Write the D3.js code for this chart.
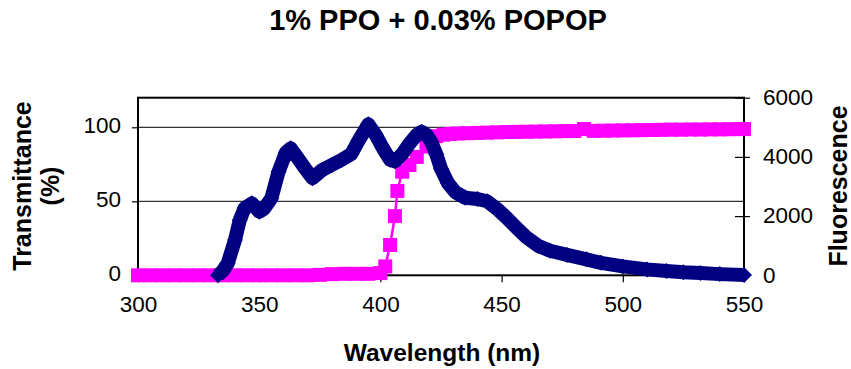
<!DOCTYPE html>
<html>
<head>
<meta charset="utf-8">
<script src="https://cdn.jsdelivr.net/npm/d3@7"></script>
<style>
  html, body { margin: 0; padding: 0; background: #fff; }
  svg { display: block; }
  text { font-family: Arial, "Liberation Sans", Helvetica, sans-serif; fill: #000; }
</style>
</head>
<body>
<svg id="chart" width="851" height="369"></svg>
<script>
// ---- data ----
const title = "1% PPO + 0.03% POPOP";
const xLabel = "Wavelength (nm)";
const yLeftLabel = ["Transmittance", "(%)"];
const yRightLabel = "Fluorescence";

const xTicks = [300, 350, 400, 450, 500, 550];
const leftTicks = [0, 50, 100];
const rightTicks = [0, 2000, 4000, 6000];

// Transmittance (%) — magenta squares, left axis
const transWavelength = [300,305,310,315,320,325,330,335,340,345,350,355,360,365,370,375,380,385,390,395,400,
  402,404,406,407,409,412,415,419,423,426,429,432,436,440,444,448,452,456,460,464,468,472,476,480,484,488,492,496,
  500,504,508,512,516,520,524,528,532,536,540,544,548,550];
const transValue = [0,0,0,0,0,0,0,0,0,0,0,0,0,0,0,0.3,0.8,1,1,1,1.5,
  6,20.5,40,57,70,74.5,80,87,94,95,95.5,95.8,96,96.2,96.4,96.6,96.8,96.9,97,97.1,97.2,97.3,97.4,97.5,98.8,97.6,97.7,97.8,
  97.9,98,98.1,98.2,98.3,98.4,98.4,98.5,98.5,98.6,98.6,98.7,98.8,98.8];

// Fluorescence — navy diamonds, right axis
const fluoWavelength = [333,335,337,340,342,344,347,350,352,355,358,361,363,366,369,372,376,380,384,388,391,395,398,401,404,406,409,412,415,417,419,421,423,425,428,431,435,440,444,448,452,456,460,465,470,477,485,491,500,510,518,525,532,540,550];
const fluoValue = [0,150,400,1190,1870,2270,2430,2150,2250,2600,3500,4150,4290,3950,3600,3280,3560,3730,3900,4100,4550,5100,4750,4300,3900,3850,4100,4450,4750,4850,4750,4500,4100,3600,3100,2800,2620,2580,2500,2250,1950,1620,1300,1000,830,690,540,420,300,200,145,100,75,40,10];

// ---- layout ----
const svg = d3.select("#chart");
const plot = { left: 138, right: 744, top: 97.7, bottom: 275.3 };

const x = d3.scaleLinear().domain([300, 550]).range([plot.left, plot.right]);
const yL = d3.scaleLinear().domain([0, 120]).range([plot.bottom, plot.top]);
const yR = d3.scaleLinear().domain([0, 6000]).range([plot.bottom, plot.top]);

const NAVY = "#000080", MAGENTA = "#FF00FF";

// gridlines
svg.append("g").selectAll("line").data(leftTicks.filter(d => d > 0)).join("line")
  .attr("x1", plot.left).attr("x2", plot.right)
  .attr("y1", d => yL(d)).attr("y2", d => yL(d))
  .attr("stroke", "#000").attr("stroke-width", 1);

// plot frame
svg.append("rect")
  .attr("x", plot.left).attr("y", plot.top)
  .attr("width", plot.right - plot.left).attr("height", plot.bottom - plot.top)
  .attr("fill", "none").attr("stroke", "#000").attr("stroke-width", 2);

// axes
const fontTick = "22.5px";
const gx = svg.append("g").attr("transform", `translate(0,${plot.bottom})`)
  .call(d3.axisBottom(x).tickValues(xTicks).tickSize(7).tickPadding(14).tickFormat(d3.format("d")));
const gl = svg.append("g").attr("transform", `translate(${plot.left},0)`)
  .call(d3.axisLeft(yL).tickValues(leftTicks).tickSize(6).tickPadding(11).tickFormat(d3.format("d")));
const gr = svg.append("g").attr("transform", `translate(${plot.right},0)`)
  .call(d3.axisRight(yR).tickValues(rightTicks).tickSize(6).tickPadding(13).tickFormat(d3.format("d")));
[gx, gl, gr].forEach(g => {
  g.select(".domain").remove();
  g.selectAll("line").attr("stroke", "#000").attr("stroke-width", 1.2);
  g.selectAll("text").style("font-size", fontTick).attr("fill", "#000");
});
gl.selectAll("text").attr("dy", "0.25em");
gr.selectAll("text").attr("dy", "0.3em");
gr.selectAll(".tick line").attr("x1", -9);

// transmittance series (magenta)
const transData = transWavelength.map((w, i) => ({ w, v: transValue[i] }));
svg.append("path").datum(transData)
  .attr("fill", "none").attr("stroke", MAGENTA).attr("stroke-width", 2.5)
  .attr("d", d3.line().x(d => x(d.w)).y(d => yL(d.v)));
const sq = 14;
svg.append("g").selectAll("rect").data(transData).join("rect")
  .attr("x", d => x(d.w) - sq / 2).attr("y", d => yL(d.v) - sq / 2)
  .attr("width", sq).attr("height", sq).attr("fill", MAGENTA);

// fluorescence series (navy)
const fluoData = fluoWavelength.map((w, i) => ({ w, v: fluoValue[i] }));
svg.append("path").datum(fluoData)
  .attr("fill", "none").attr("stroke", NAVY).attr("stroke-width", 14)
  .attr("stroke-linejoin", "round")
  .attr("d", d3.line().x(d => x(d.w)).y(d => yR(d.v)));
const r = 8;
svg.append("g").selectAll("path").data(fluoData).join("path")
  .attr("transform", d => `translate(${x(d.w)},${yR(d.v)})`)
  .attr("d", `M0,${-r}L${r},0L0,${r}L${-r},0Z`)
  .attr("fill", NAVY);

// titles
svg.append("text").attr("x", 438).attr("y", 30).attr("text-anchor", "middle")
  .style("font-size", "29px").style("font-weight", "bold").text(title);
svg.append("text").attr("x", 442).attr("y", 361).attr("text-anchor", "middle")
  .style("font-size", "24.5px").style("font-weight", "bold").text(xLabel);
svg.append("text").attr("transform", "translate(31,186) rotate(-90)").attr("text-anchor", "middle")
  .style("font-size", "25px").style("font-weight", "bold").text(yLeftLabel[0]);
svg.append("text").attr("transform", "translate(59,186) rotate(-90)").attr("text-anchor", "middle")
  .style("font-size", "25px").style("font-weight", "bold").text(yLeftLabel[1]);
svg.append("text").attr("transform", "translate(847,186) rotate(-90)").attr("text-anchor", "middle")
  .style("font-size", "25px").style("font-weight", "bold").text(yRightLabel);
</script>
</body>
</html>
